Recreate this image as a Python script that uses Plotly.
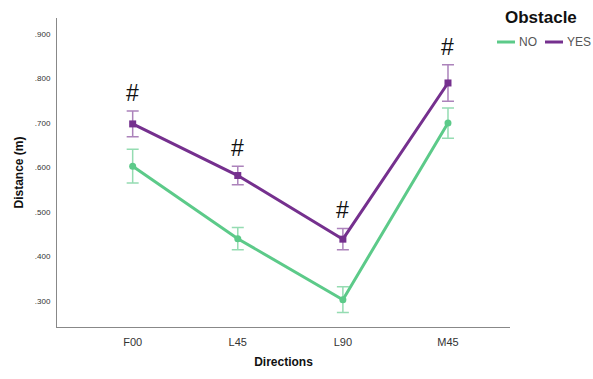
import plotly.graph_objects as go

directions = ["F00", "L45", "L90", "M45"]
no_mean = [0.603, 0.440, 0.303, 0.700]
no_err = [0.038, 0.025, 0.029, 0.034]
yes_mean = [0.698, 0.582, 0.439, 0.790]
yes_err = [0.029, 0.021, 0.024, 0.041]
y_ticks = [0.3, 0.4, 0.5, 0.6, 0.7, 0.8, 0.9]
y_tick_text = [".300", ".400", ".500", ".600", ".700", ".800", ".900"]
significant = ["F00", "L45", "L90", "M45"]
groups = ["NO", "YES"]

GREEN = "#5cca89"
PURPLE = "#75308e"

fig = go.Figure()
fig.add_trace(go.Scatter(
    x=directions, y=no_mean, name="NO", mode="lines+markers",
    line=dict(color=GREEN, width=3),
    marker=dict(symbol="circle", size=7, color=GREEN),
    error_y=dict(type="data", array=no_err, color="rgba(92,202,137,0.65)",
                 thickness=1.5, width=6),
))
fig.add_trace(go.Scatter(
    x=directions, y=yes_mean, name="YES", mode="lines+markers",
    line=dict(color=PURPLE, width=3),
    marker=dict(symbol="square", size=7, color=PURPLE),
    error_y=dict(type="data", array=yes_err, color="rgba(117,48,142,0.6)",
                 thickness=1.5, width=6),
))

for d, m, e in zip(directions, yes_mean, yes_err):
    if d in significant:
        fig.add_annotation(x=d, y=m + e, text="#", showarrow=False,
                           yanchor="bottom", yshift=3,
                           font=dict(family="Liberation Sans", size=23, color="#111"))

# compact legend: title plus short line keys
fig.add_annotation(xref="paper", yref="paper", x=1.0684, y=1.003,
                   text="<b>Obstacle</b>", showarrow=False,
                   xanchor="center", yanchor="middle",
                   font=dict(size=17, color="#111"))
key_x = [(0.9713, 1.011, 1.0155), (1.0773, 1.117, 1.1214)]
for name, color, (x0, x1, tx) in zip(groups, [GREEN, PURPLE], key_x):
    fig.add_shape(type="line", xref="paper", yref="paper",
                  x0=x0, x1=x1, y0=0.9223, y1=0.9223,
                  line=dict(color=color, width=3))
    fig.add_annotation(xref="paper", yref="paper", x=tx, y=0.9223,
                       text=name, showarrow=False,
                       xanchor="left", yanchor="middle",
                       font=dict(size=12, color="#555"))

fig.update_layout(
    width=593, height=379,
    margin=dict(l=57, r=83, t=18, b=52, autoexpand=False),
    plot_bgcolor="white", paper_bgcolor="white",
    font=dict(family="Liberation Sans, Arial", color="#333"),
    showlegend=False,
    xaxis=dict(
        type="category", range=[-0.72, 3.59],
        showline=True, linecolor="#888", linewidth=1,
        showgrid=False, zeroline=False,
        ticks="outside", ticklen=5, tickcolor="rgba(0,0,0,0)",
        tickfont=dict(size=11, color="#333"),
        title=dict(text="<b>Directions</b>", font=dict(size=12, color="#111"),
                   standoff=10),
    ),
    yaxis=dict(
        range=[0.2416, 0.936],
        tickvals=y_ticks, ticktext=y_tick_text,
        showline=True, linecolor="#888", linewidth=1,
        showgrid=False, zeroline=False,
        ticks="outside", ticklen=4, tickcolor="rgba(0,0,0,0)",
        tickfont=dict(size=8, color="#333"),
        title=dict(text="<b>Distance (m)</b>", font=dict(size=12, color="#111"),
                   standoff=8),
    ),
)

fig.write_html("out.html")
